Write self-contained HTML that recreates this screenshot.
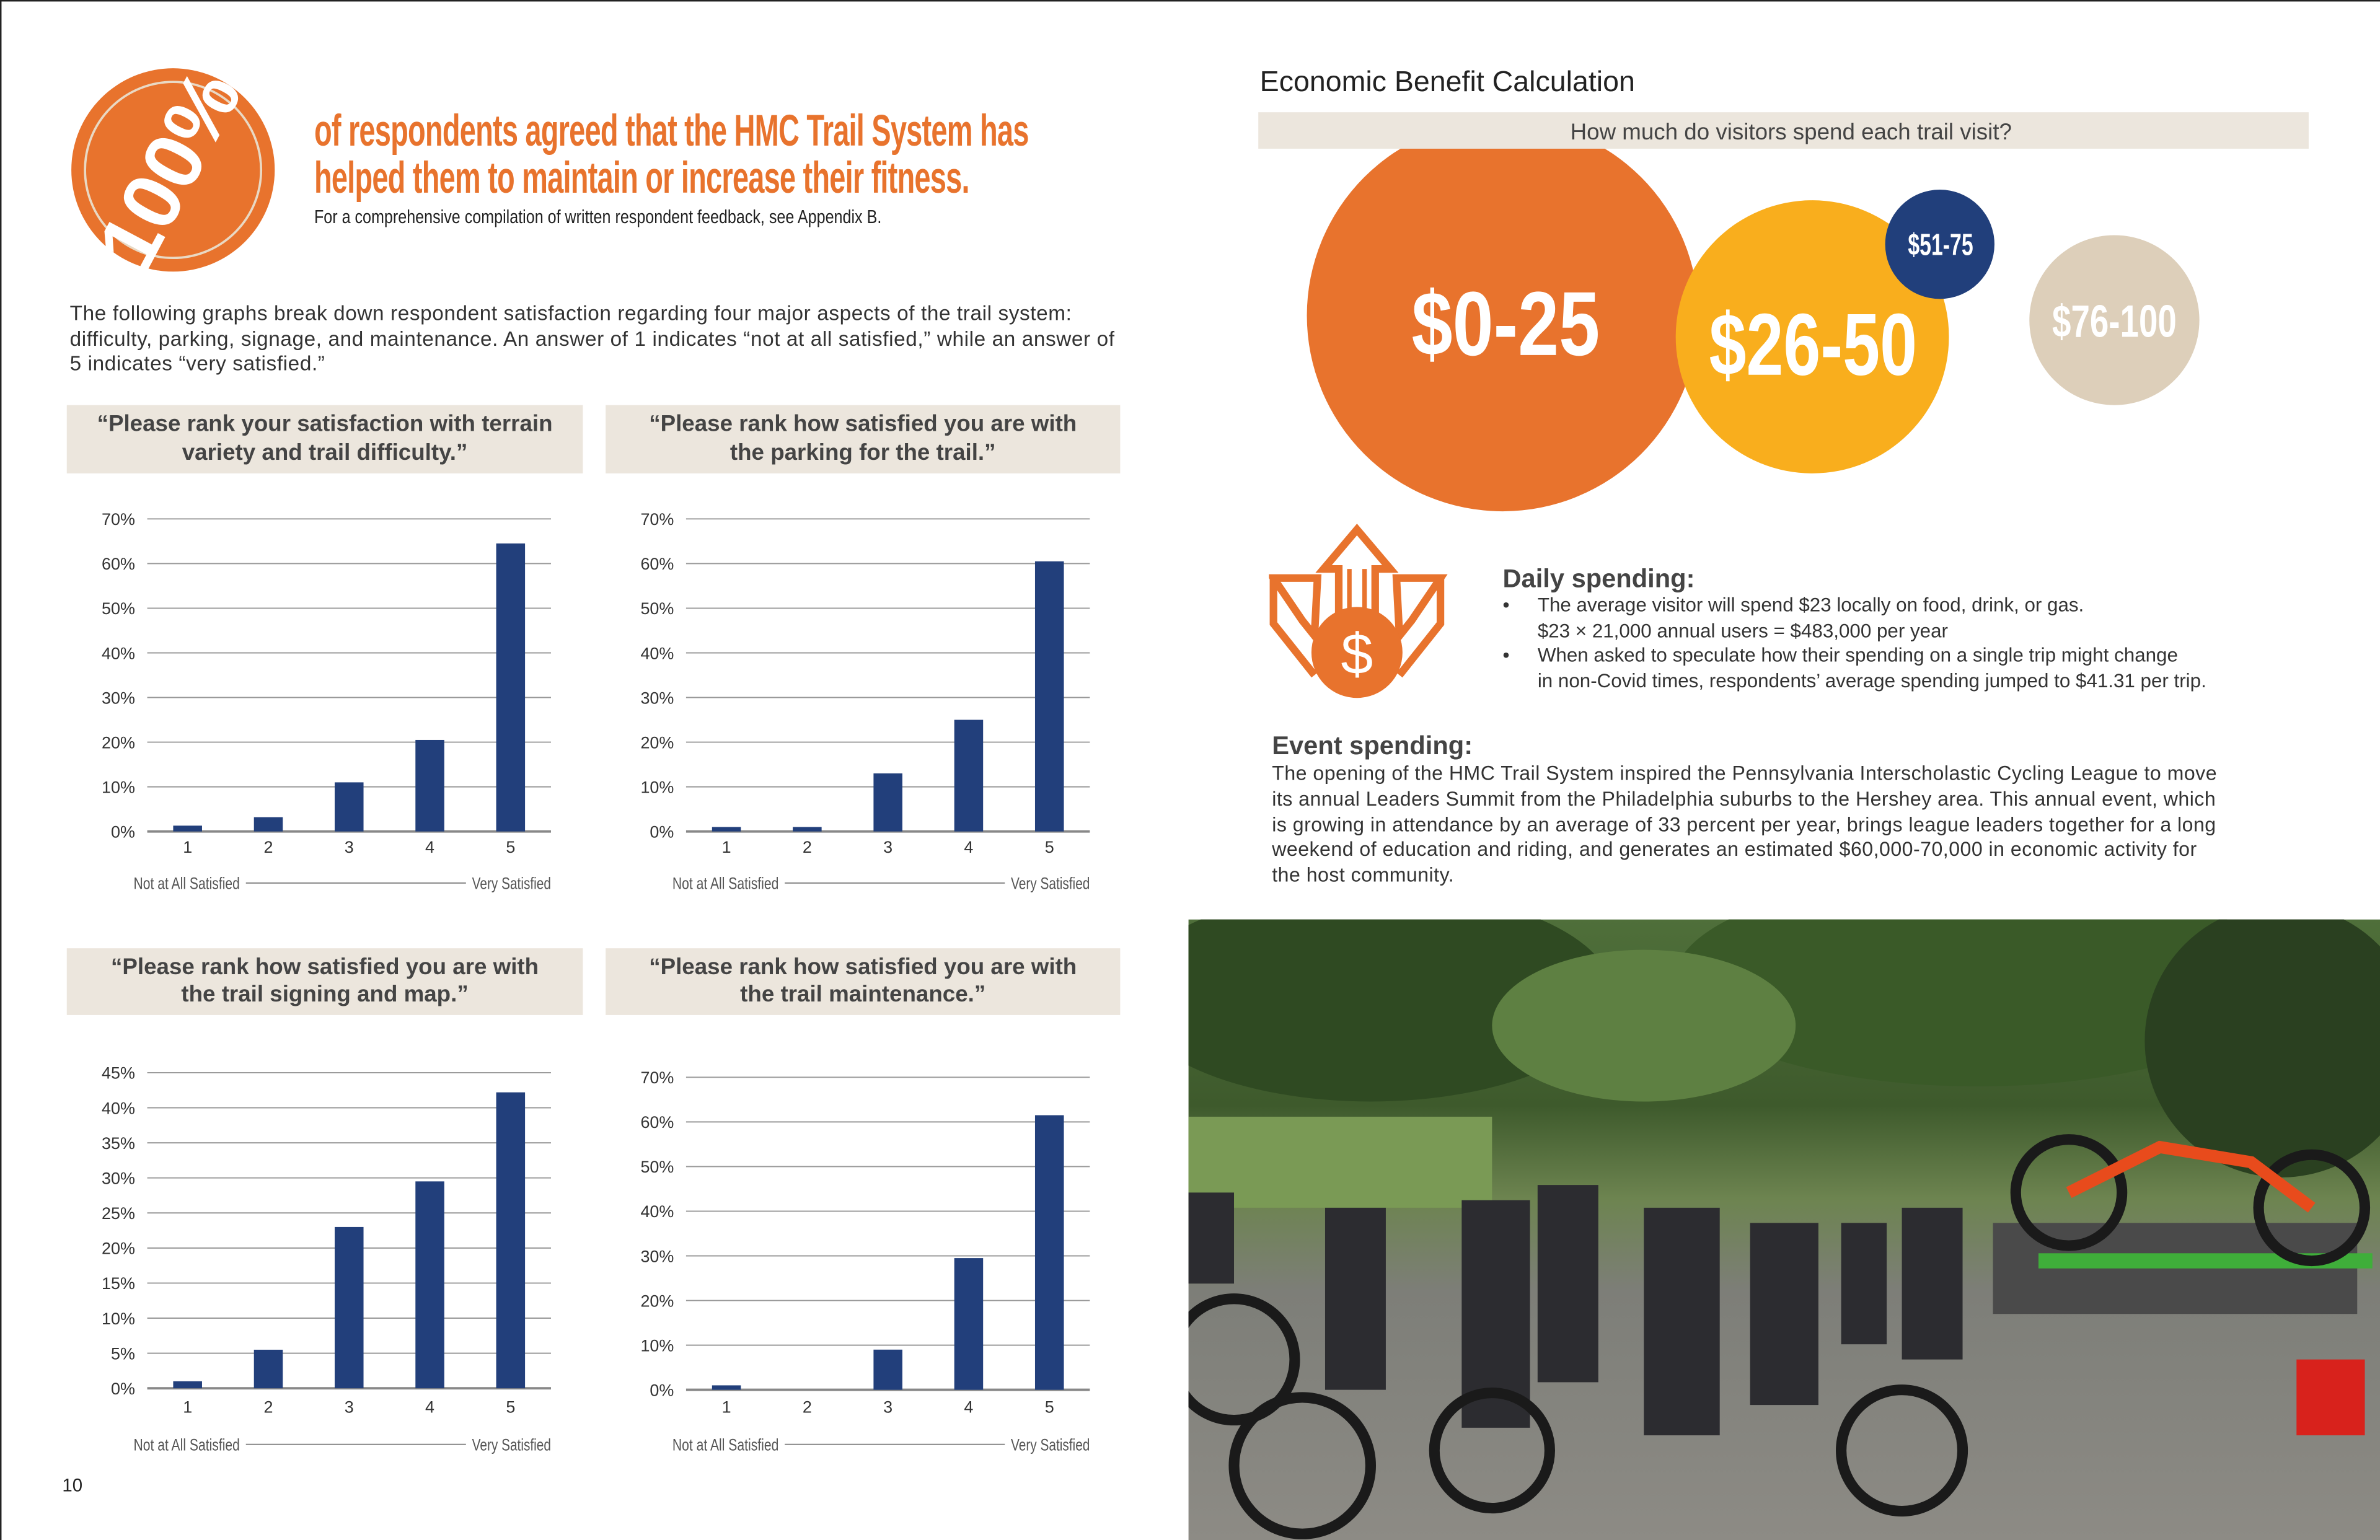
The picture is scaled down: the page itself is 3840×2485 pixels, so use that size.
<!DOCTYPE html>
<html><head><meta charset="utf-8">
<style>
html,body{margin:0;padding:0;background:#fff;}
body{width:3840px;height:2485px;overflow:hidden;position:relative;}
#page{position:absolute;left:0;top:0;width:1568px;height:1015px;transform:scale(2.44898,2.4483);transform-origin:0 0;font-family:"Liberation Sans",sans-serif;color:#333;}
.abs{position:absolute;}
.cond{display:inline-block;transform-origin:0 0;white-space:nowrap;}
.tbox{position:absolute;background:#ece6dd;color:#444;font-size:15px;font-weight:bold;text-align:center;line-height:18.5px;display:flex;align-items:center;justify-content:center;}
.body{font-size:12.3px;line-height:16.6px;color:#333;white-space:nowrap;}
</style></head>
<body>
<div id="page">
<div class="abs" style="left:0;top:0;width:1568px;height:1015px;border-top:1px solid #222;border-left:1px solid #222;box-sizing:border-box;"></div>

<svg class="abs" style="left:44px;top:44px" width="150" height="140">
<circle cx="70" cy="68" r="67" fill="#e8732d"/>
<circle cx="70" cy="68" r="58" fill="none" stroke="#e9d9c4" stroke-width="1.5"/>
<text x="68" y="86" transform="rotate(-62 68 68)" text-anchor="middle" textLength="138" lengthAdjust="spacingAndGlyphs" font-family="Liberation Sans, sans-serif" font-weight="bold" font-size="54" fill="#fff">100%</text>
</svg>
<div class="abs" style="left:207px;top:72px;">
<div class="cond" style="transform:scaleX(0.662);font-size:29px;line-height:30.5px;font-weight:bold;color:#e8732d;letter-spacing:-0.5px;">of respondents agreed that the HMC Trail System has<br>helped them to maintain or increase their fitness.</div></div>
<div class="abs" style="left:207px;top:134px;"><div class="cond" style="transform:scaleX(0.82);font-size:12.5px;color:#222;">For a comprehensive compilation of written respondent feedback, see Appendix B.</div></div>

<div class="abs body" style="left:46px;top:199px;font-size:13.6px;letter-spacing:0.25px;">The following graphs break down respondent satisfaction regarding four major aspects of the trail system:<br>difficulty, parking, signage, and maintenance. An answer of 1 indicates “not at all satisfied,” while an answer of<br>5 indicates “very satisfied.”</div>

<div class="tbox" style="left:44px;top:267px;width:340px;height:45px;">“Please rank your satisfaction with terrain<br>variety and trail difficulty.”</div>
<div class="tbox" style="left:399px;top:267px;width:339px;height:45px;">“Please rank how satisfied you are with<br>the parking for the trail.”</div>
<div class="tbox" style="left:44px;top:625px;width:340px;height:44px;">“Please rank how satisfied you are with<br>the trail signing and map.”</div>
<div class="tbox" style="left:399px;top:625px;width:339px;height:44px;">“Please rank how satisfied you are with<br>the trail maintenance.”</div>

<svg id="charts" class="abs" style="left:0;top:0" width="784" height="1015"></svg>

<div class="abs" style="left:41px;top:972px;font-size:12px;color:#222;">10</div>

<div class="abs" style="left:830px;top:44px;font-size:19px;color:#222;">Economic Benefit Calculation</div>
<svg class="abs" style="left:783px;top:70px" width="785" height="280">
<circle cx="207" cy="138" r="129" fill="#e8732d"/>
<circle cx="411" cy="152" r="90" fill="#f9ae1d"/>
<circle cx="495" cy="91" r="36" fill="#213f7b"/>
<circle cx="610" cy="141" r="56" fill="#ddcfba"/>
<rect x="46" y="4" width="692" height="24" fill="#ece6dd"/>
<text x="397" y="22" text-anchor="middle" font-size="15" fill="#444" font-family="Liberation Sans, sans-serif">How much do visitors spend each trail visit?</text>
<g font-family="Liberation Sans, sans-serif" font-weight="bold" fill="#fff">
<text x="147" y="164" font-size="60" textLength="124" lengthAdjust="spacingAndGlyphs">$0-25</text>
<text x="343" y="177" font-size="58" textLength="137" lengthAdjust="spacingAndGlyphs">$26-50</text>
<text x="474" y="98" font-size="20" textLength="43" lengthAdjust="spacingAndGlyphs">$51-75</text>
<text x="569" y="152" font-size="30" textLength="82" lengthAdjust="spacingAndGlyphs">$76-100</text>
</g>
</svg>

<svg class="abs" style="left:836px;top:345px" width="118" height="118">
<g fill="none" stroke="#e8732d" stroke-width="5" stroke-linejoin="miter">
<path d="M58 4 L80 30 L70 30 L70 62 L46 62 L46 30 L36 30 Z"/>
<path d="M3 36 L32 36 L30 74 L22 64 Z"/>
<path d="M3 36 L3 66 L30 100"/>
<path d="M113 36 L84 36 L86 74 L94 64 Z"/>
<path d="M113 36 L113 66 L86 100"/>
</g>
<line x1="53" y1="30" x2="53" y2="62" stroke="#e8732d" stroke-width="3"/>
<line x1="63" y1="30" x2="63" y2="62" stroke="#e8732d" stroke-width="3"/>
<circle cx="58" cy="85" r="30" fill="#e8732d"/>
<text x="58" y="99" text-anchor="middle" font-size="38" fill="#fff" font-family="Liberation Sans, sans-serif">$</text>
</svg>

<div class="abs" style="left:990px;top:372px;font-size:17px;font-weight:bold;color:#444;">Daily spending:</div>
<div class="abs body" style="left:990px;top:391px;font-size:12.8px;">
<div><span style="display:inline-block;width:23px">•</span>The average visitor will spend $23 locally on food, drink, or gas.</div>
<div style="padding-left:23px">$23 × 21,000 annual users = $483,000 per year</div>
<div><span style="display:inline-block;width:23px">•</span>When asked to speculate how their spending on a single trip might change</div>
<div style="padding-left:23px">in non-Covid times, respondents’ average spending jumped to $41.31 per trip.</div>
</div>
<div class="abs" style="left:838px;top:482px;font-size:17px;font-weight:bold;color:#444;">Event spending:</div>
<div class="abs body" style="left:838px;top:502px;font-size:13.1px;line-height:16.8px;letter-spacing:0.2px;">The opening of the HMC Trail System inspired the Pennsylvania Interscholastic Cycling League to move<br>its annual Leaders Summit from the Philadelphia suburbs to the Hershey area. This annual event, which<br>is growing in attendance by an average of 33 percent per year, brings league leaders together for a long<br>weekend of education and riding, and generates an estimated $60,000-70,000 in economic activity for<br>the host community.</div>

<svg class="abs" style="left:783px;top:606px" width="785" height="409">
<defs><linearGradient id="sky" x1="0" y1="0" x2="0" y2="1">
<stop offset="0" stop-color="#4f6f3a"/><stop offset="0.3" stop-color="#3e5a2c"/><stop offset="0.45" stop-color="#6d8450"/><stop offset="0.6" stop-color="#7d7e78"/><stop offset="1" stop-color="#8d8b85"/></linearGradient></defs>
<rect width="785" height="409" fill="url(#sky)"/>
<ellipse cx="120" cy="50" rx="160" ry="70" fill="#2f4a22"/>
<ellipse cx="520" cy="40" rx="200" ry="70" fill="#3a5a28"/>
<ellipse cx="720" cy="80" rx="90" ry="90" fill="#2a4020"/>
<ellipse cx="300" cy="70" rx="100" ry="50" fill="#5e8042"/>
<rect x="0" y="130" width="200" height="60" fill="#7a9a55"/>
<g fill="#2c2c30">
<rect x="90" y="190" width="40" height="120"/><rect x="180" y="185" width="45" height="150"/><rect x="230" y="175" width="40" height="130"/><rect x="300" y="190" width="50" height="150"/><rect x="370" y="200" width="45" height="120"/><rect x="430" y="200" width="30" height="80"/><rect x="470" y="190" width="40" height="100"/><rect x="0" y="180" width="30" height="60"/>
</g>
<rect x="530" y="200" width="240" height="60" fill="#4a4a4a"/>
<rect x="560" y="220" width="220" height="10" fill="#3fae3a"/>
<g fill="none" stroke="#1a1a1a" stroke-width="7">
<circle cx="75" cy="360" r="45"/><circle cx="200" cy="350" r="38"/><circle cx="470" cy="350" r="40"/><circle cx="580" cy="180" r="35"/><circle cx="740" cy="190" r="35"/><circle cx="30" cy="290" r="40"/>
</g>
<path d="M580 180 L640 150 L700 160 L740 190" stroke="#e84b1c" stroke-width="8" fill="none"/>
<rect x="730" y="290" width="45" height="50" fill="#d8221c"/>
</svg>
</div>

<script>
const categories = ["1","2","3","4","5"];
const terrainValues = [1.3, 3.2, 11, 20.5, 64.5];
const parkingValues = [1, 1, 13, 25, 60.5];
const signingValues = [1, 5.5, 23, 29.5, 42.2];
const maintenanceValues = [1, 0, 9, 29.5, 61.5];
const ticks70 = [0,10,20,30,40,50,60,70];
const ticks45 = [0,5,10,15,20,25,30,35,40,45];

const NS = "http://www.w3.org/2000/svg";
const svg = document.getElementById("charts");
function mk(tag, attrs, parent){
  const e = document.createElementNS(NS, tag);
  for (const k in attrs) e.setAttribute(k, attrs[k]);
  (parent||svg).appendChild(e);
  return e;
}
function chart(name, values, ticks, x0, x1, yTop, yBot, labelY, footY){
  const g = mk("g", {});
  
  
  const max = ticks[ticks.length-1];
  const yS = v => yBot - (v/max)*(yBot-yTop);
  const step = (x1-x0)/categories.length;
  const xS = i => x0 + step*(i+0.5);
  ticks.forEach(t=>{
    const ln = mk("line",{x1:x0,x2:x1,y1:yS(t),y2:yS(t),stroke:t===0?"#888":"#999","stroke-width":t===0?1.6:0.8},g);
    
    
    const tx = mk("text",{x:x0-8,y:yS(t)+4,"text-anchor":"end","font-size":11,fill:"#333","font-family":"Liberation Sans, sans-serif"},g);
    tx.textContent = t+"%";
    
    
  });
  const bw = 19;
  values.forEach((v,i)=>{
    if (v>0){
      const r = mk("rect",{x:xS(i)-bw/2,y:yS(v),width:bw,height:yBot-yS(v),fill:"#223f7b"},g);
      
      
    }
    const t = mk("text",{x:xS(i),y:labelY,"text-anchor":"middle","font-size":11,fill:"#333","font-family":"Liberation Sans, sans-serif"},g);
    t.textContent = categories[i];
    
    
  });
  const f1 = mk("text",{x:x0-9,y:footY,"font-size":11,fill:"#555","font-family":"Liberation Sans, sans-serif",textLength:70,lengthAdjust:"spacingAndGlyphs"},g);
  f1.textContent = "Not at All Satisfied";
  
  
  const f2 = mk("text",{x:x1-52,y:footY,"font-size":11,fill:"#555","font-family":"Liberation Sans, sans-serif",textLength:52,lengthAdjust:"spacingAndGlyphs"},g);
  f2.textContent = "Very Satisfied";
  
  
  const ln = mk("line",{x1:x0+65,x2:x1-56,y1:footY-4,y2:footY-4,stroke:"#888","stroke-width":0.8},g);
  
  
}
chart("terrain-chart", terrainValues, ticks70, 97, 363, 342, 548, 562, 586);
chart("parking-chart", parkingValues, ticks70, 452, 718, 342, 548, 562, 586);
chart("signing-chart", signingValues, ticks45, 97, 363, 707, 915, 931, 956);
chart("maintenance-chart", maintenanceValues, ticks70, 452, 718, 710, 916, 931, 956);
</script>
</body></html>
